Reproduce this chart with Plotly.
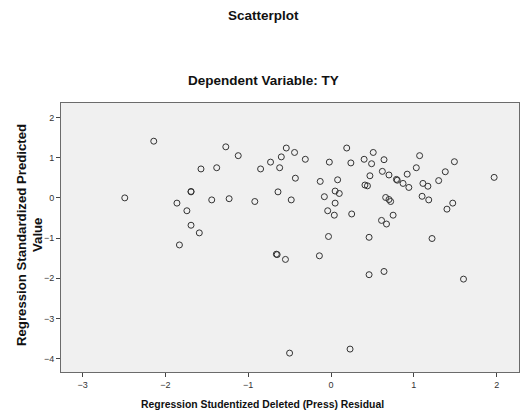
import plotly.graph_objects as go

resid = [-2.49, -2.14, -1.69, -1.69, -1.86, -1.74, -1.69, -1.59, -1.83, -1.57,
         -1.38, -1.27, -1.12, -1.44, -1.23, -0.92, -0.85, -0.73, -0.62, -0.60,
         -0.54, -0.64, -0.48, -0.44, -0.31, -0.43, -0.02, 0.19, 0.24, -0.13,
         0.08, 0.05, 0.10, -0.08, 0.05, -0.04, 0.04, 0.25, -0.03, 0.46,
         1.22, 0.40, 0.51, 0.49, 0.64, 0.47, 0.62, 0.70, 0.79, 0.80,
         0.87, 0.94, 0.92, 1.03, 1.07, 0.41, 0.44, 0.66, 0.70, 0.72,
         0.75, 0.61, 0.67, 1.11, 1.17, 1.10, 1.18, 1.30, 1.38, 1.49,
         1.40, 1.47, 1.97, -0.66, -0.65, -0.55, -0.50, -0.14, 0.46, 0.64,
         1.60, 0.23]
pred = [0.00, 1.41, 0.16, 0.15, -0.13, -0.32, -0.68, -0.87, -1.17, 0.72,
        0.75, 1.27, 1.05, -0.05, -0.02, -0.09, 0.72, 0.89, 0.75, 1.02,
        1.24, 0.15, -0.05, 1.13, 0.96, 0.49, 0.89, 1.24, 0.87, 0.41,
        0.45, 0.17, 0.11, 0.03, -0.13, -0.32, -0.43, -0.40, -0.96, -0.98,
        -1.01, 0.96, 1.13, 0.85, 0.95, 0.55, 0.66, 0.57, 0.46, 0.44,
        0.36, 0.26, 0.59, 0.75, 1.05, 0.32, 0.30, 0.01, -0.04, -0.09,
        -0.43, -0.56, -0.65, 0.36, 0.29, 0.04, -0.05, 0.43, 0.65, 0.90,
        -0.28, -0.13, 0.51, -1.40, -1.41, -1.53, -3.86, -1.44, -1.91, -1.83,
        -2.02, -3.76]

x_ticks = [-3, -2, -1, 0, 1, 2]
y_ticks = [-4, -3, -2, -1, 0, 1, 2]

FONT = "Arial, Liberation Sans, sans-serif"
W, H = 522, 417
ML, MR, MT, MB = 61, 3, 103, 45
plot_w = W - ML - MR
plot_h = H - MT - MB

fig = go.Figure(go.Scatter(
    x=resid, y=pred, mode="markers",
    marker=dict(symbol="circle-open", size=6, color="#333333", line=dict(width=1, color="#333333")),
    hoverinfo="x+y",
))

axis_common = dict(
    showgrid=False, zeroline=False, showline=True, mirror=True,
    linecolor="#6b6b6b", linewidth=1, ticks="outside", ticklen=4,
    tickcolor="#444444", tickfont=dict(family=FONT, size=9, color="#333333"),
    automargin=False,
)

fig.update_layout(
    width=W, height=H,
    margin=dict(l=ML, r=MR, t=MT, b=MB),
    paper_bgcolor="white", plot_bgcolor="#f0f0f0",
    showlegend=False,
    xaxis=dict(range=[-3.26, 2.27], tickvals=x_ticks, **axis_common),
    yaxis=dict(range=[-4.33, 2.36], tickvals=y_ticks, **axis_common),
)


def px_x(p):
    return (p - ML) / plot_w


def px_y(p):
    return (H - MB - p) / plot_h


texts = [
    ("<b>Scatterplot</b>", 263, 15, 13.5, 0),
    ("<b>Dependent Variable: TY</b>", 263, 80, 13.5, 0),
    ("<b>Regression Studentized Deleted (Press) Residual</b>", 262.5, 404, 10.4, 0),
    ("<b>Regression Standardized Predicted</b>", 21, 235, 13.2, -90),
    ("<b>Value</b>", 37, 235, 13.2, -90),
]
for text, xp, yp, size, ang in texts:
    fig.add_annotation(text=text, x=px_x(xp), y=px_y(yp), xref="paper", yref="paper",
                       xanchor="center", yanchor="middle", textangle=ang,
                       showarrow=False, font=dict(family=FONT, size=size, color="#111111"))

fig.write_html("out.html", config={"displayModeBar": False},
               post_script="document.body.style.margin='0';")
